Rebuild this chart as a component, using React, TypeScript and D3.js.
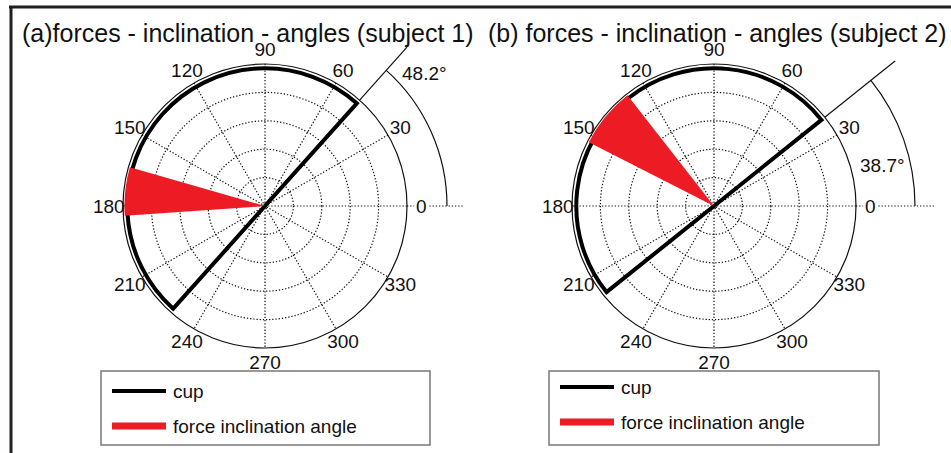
import * as d3 from "d3";

const titles = [
  "(a)forces - inclination - angles (subject 1)",
  "(b) forces - inclination - angles (subject 2)",
];
const cupAngles = [48.2, 38.7];
const forceStart = [164, 128];
const forceEnd = [184, 153];
const angleNotes = ["48.2°", "38.7°"];
const angleTicks = [0, 30, 60, 90, 120, 150, 180, 210, 240, 270, 300, 330];
const rings = [0.2, 0.4, 0.6, 0.8];
const legendNames = ["cup", "force inclination angle"];
const legendColors = ["#000000", "#ed1c24"];

const W = 951;
const H = 453;
const R = 142;
const font = "Liberation Sans, Arial, sans-serif";

// per-panel layout
const layout = [
  { cx: 265, cy: 206, titleX: 22, noteR: 182, lineR: 213, zeroR: 198, noteX: 402, noteY: 80, legX: 101, legW: 329 },
  { cx: 714, cy: 206, titleX: 488, noteR: 201, lineR: 232, zeroR: 220, noteX: 860, noteY: 172, legX: 549, legW: 330 },
];

const rad = (d: number) => (d * Math.PI) / 180;

function Panel({ i }: { i: number }) {
  const L = layout[i];
  const r = d3.scaleLinear().domain([0, 1]).range([0, R]);
  const pt = (deg: number, rr: number): [number, number] => [
    rr * Math.cos(rad(deg)),
    -rr * Math.sin(rad(deg)),
  ];

  const wedge = d3.arc()({
    innerRadius: 0,
    outerRadius: r(0.99),
    startAngle: Math.PI / 2 - rad(forceEnd[i]),
    endAngle: Math.PI / 2 - rad(forceStart[i]),
  }) as string;

  const rc = r(0.97);
  const cup = d3.path();
  const [sx, sy] = pt(cupAngles[i], rc);
  cup.moveTo(sx, sy);
  cup.arc(0, 0, rc, -rad(cupAngles[i]), -rad(cupAngles[i] + 180), true);
  cup.closePath();

  const note = d3.path();
  note.moveTo(L.noteR, 0);
  note.arc(0, 0, L.noteR, 0, -rad(cupAngles[i]), true);

  const [l1x, l1y] = pt(cupAngles[i], R);
  const [l2x, l2y] = pt(cupAngles[i], L.lineR);

  return (
    <g>
      <text x={L.titleX} y={42} fontSize={25} fontFamily={font} fill="#111">
        {titles[i]}
      </text>
      <g transform={`translate(${L.cx},${L.cy})`}>
        {rings.map((f) => (
          <circle key={f} r={r(f)} fill="none" stroke="#111" strokeWidth={1.2} strokeDasharray="1.3 1.9" />
        ))}
        {angleTicks.slice(0, 6).map((a) => {
          const [x1, y1] = pt(a, R);
          const [x2, y2] = pt(a + 180, R);
          return (
            <line key={a} x1={x1} y1={y1} x2={x2} y2={y2} stroke="#111" strokeWidth={1.2} strokeDasharray="1.3 1.9" />
          );
        })}
        <line x1={R} y1={0} x2={L.zeroR} y2={0} stroke="#111" strokeWidth={1.2} strokeDasharray="1.3 1.9" />
        <circle r={R} fill="none" stroke="#111" strokeWidth={1.2} />
        <path d={cup.toString()} fill="none" stroke="#000" strokeWidth={4} strokeLinejoin="miter" />
        <path d={wedge} fill="#ed1c24" />
        <path d={note.toString()} fill="none" stroke="#111" strokeWidth={1.2} />
        <line x1={l1x} y1={l1y} x2={l2x} y2={l2y} stroke="#111" strokeWidth={1.2} />
        {angleTicks.map((a) => {
          const [x, y] = pt(a, r(1.1));
          return (
            <g key={a}>
              {a === 0 && <rect x={x - 7} y={y - 10} width={14} height={20} fill="#fff" />}
              <text x={x} y={y} textAnchor="middle" dominantBaseline="central" fontSize={19} fontFamily={font} fill="#111">
                {a}
              </text>
            </g>
          );
        })}
      </g>
      <text x={L.noteX} y={L.noteY} fontSize={19} fontFamily={font} fill="#111">
        {angleNotes[i]}
      </text>
      <rect x={L.legX} y={371} width={L.legW} height={74} fill="#fff" stroke="#777" strokeWidth={1.5} />
      {legendNames.map((n, k) => {
        const y = 391 + k * 35 - i * 4;
        return (
          <g key={n}>
            <line x1={L.legX + 11} x2={L.legX + 65} y1={y} y2={y} stroke={legendColors[k]} strokeWidth={k === 0 ? 4 : 7} />
            <text x={L.legX + 72} y={y} dominantBaseline="central" fontSize={19} fontFamily={font} fill="#111">
              {n}
            </text>
          </g>
        );
      })}
    </g>
  );
}

export default function App() {
  return (
    <svg width={W} height={H} style={{ position: "absolute", left: 0, top: 0, background: "#fff" }}>
      <rect width={W} height={H} fill="#fff" />
      <line x1={9} x2={W} y1={7} y2={7} stroke="#231f20" strokeWidth={3} />
      <line x1={11} x2={11} y1={6} y2={H} stroke="#231f20" strokeWidth={3} />
      <Panel i={0} />
      <Panel i={1} />
    </svg>
  );
}
